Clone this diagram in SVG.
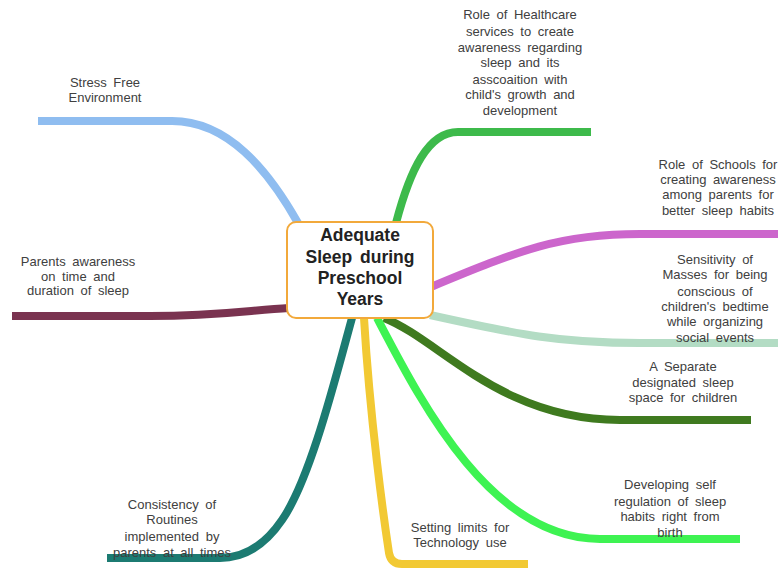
<svg xmlns="http://www.w3.org/2000/svg" width="778" height="571" viewBox="0 0 778 571">
<style>
.br{fill:none;stroke-width:8;stroke-linecap:butt;stroke-linejoin:round}
.lb{font-family:"Liberation Sans",Arial,sans-serif;font-size:13px;fill:#404040;text-anchor:middle;word-spacing:3px}
.ct{font-family:"Liberation Sans",Arial,sans-serif;font-size:17.5px;font-weight:bold;fill:#222;text-anchor:middle;word-spacing:3px}
</style>
<rect width="778" height="571" fill="#ffffff"/>
<g id="connectors">
<path class="br" stroke="#8fbdf0" d="M38,121 L172,121 C228,121 268,170 298,223"/>
<path class="br" stroke="#7a3350" d="M12,316 L150,316 C220,316 250,310 289,308"/>
<path class="br" stroke="#3dba4b" d="M396,223 C410,170 428,132 458,132 L591,132"/>
<path class="br" stroke="#cc66cc" d="M431,287 C520,250 560,234 640,234 L778,234"/>
<path class="br" stroke="#b3dcc4" d="M430,315 C520,335 560,343 640,343 L778,343"/>
<path class="br" stroke="#3f7a1f" d="M384,318 C440,340 500,420 620,420 L751,420"/>
<path class="br" stroke="#3ef352" d="M377,318 C420,400 490,539 600,539 L740,539"/>
<path class="br" stroke="#f2c933" d="M364,318 C370,420 384,520 389,553 Q391,564 402,564 L528,564"/>
<path class="br" stroke="#1c7b72" d="M352,318 C335,380 310,480 282,520 C265,545 245,558 220,558 L107,558"/>
</g>
<g id="center">
<rect x="287" y="222" width="146" height="96" rx="9" ry="9" fill="#ffffff" stroke="#f2a93b" stroke-width="2"/>
<text class="ct" x="360" y="241">Adequate</text>
<text class="ct" x="360" y="263">Sleep during</text>
<text class="ct" x="360" y="284">Preschool</text>
<text class="ct" x="360" y="305">Years</text>
</g>
<g id="n-stress">
<text class="lb" x="105" y="87">Stress Free</text>
<text class="lb" x="105" y="102">Environment</text>
</g>
<g id="n-parents">
<text class="lb" x="78" y="266">Parents awareness</text>
<text class="lb" x="78" y="281">on time and</text>
<text class="lb" x="78" y="295">duration of sleep</text>
</g>
<g id="n-healthcare">
<text class="lb" x="520" y="19">Role of Healthcare</text>
<text class="lb" x="520" y="36">services to create</text>
<text class="lb" x="520" y="52">awareness regarding</text>
<text class="lb" x="520" y="67">sleep and its</text>
<text class="lb" x="520" y="84">asscoaition with</text>
<text class="lb" x="520" y="99">child's growth and</text>
<text class="lb" x="520" y="115">development</text>
</g>
<g id="n-schools">
<text class="lb" x="718" y="169">Role of Schools for</text>
<text class="lb" x="718" y="184">creating awareness</text>
<text class="lb" x="718" y="199">among parents for</text>
<text class="lb" x="718" y="215">better sleep habits</text>
</g>
<g id="n-sensitivity">
<text class="lb" x="715" y="264">Sensitivity of</text>
<text class="lb" x="715" y="279">Masses for being</text>
<text class="lb" x="715" y="296">conscious of</text>
<text class="lb" x="715" y="311">children's bedtime</text>
<text class="lb" x="715" y="326">while organizing</text>
<text class="lb" x="715" y="342">social events</text>
</g>
<g id="n-separate">
<text class="lb" x="683" y="371">A Separate</text>
<text class="lb" x="683" y="387">designated sleep</text>
<text class="lb" x="683" y="402">space for children</text>
</g>
<g id="n-developing">
<text class="lb" x="670" y="489">Developing self</text>
<text class="lb" x="670" y="506">regulation of sleep</text>
<text class="lb" x="670" y="521">habits right from</text>
<text class="lb" x="670" y="537">birth</text>
</g>
<g id="n-technology">
<text class="lb" x="460" y="532">Setting limits for</text>
<text class="lb" x="460" y="547">Technology use</text>
</g>
<g id="n-consistency">
<text class="lb" x="172" y="509">Consistency of</text>
<text class="lb" x="172" y="524">Routines</text>
<text class="lb" x="172" y="541">implemented by</text>
<text class="lb" x="172" y="557">parents at all times</text>
</g>
</svg>
